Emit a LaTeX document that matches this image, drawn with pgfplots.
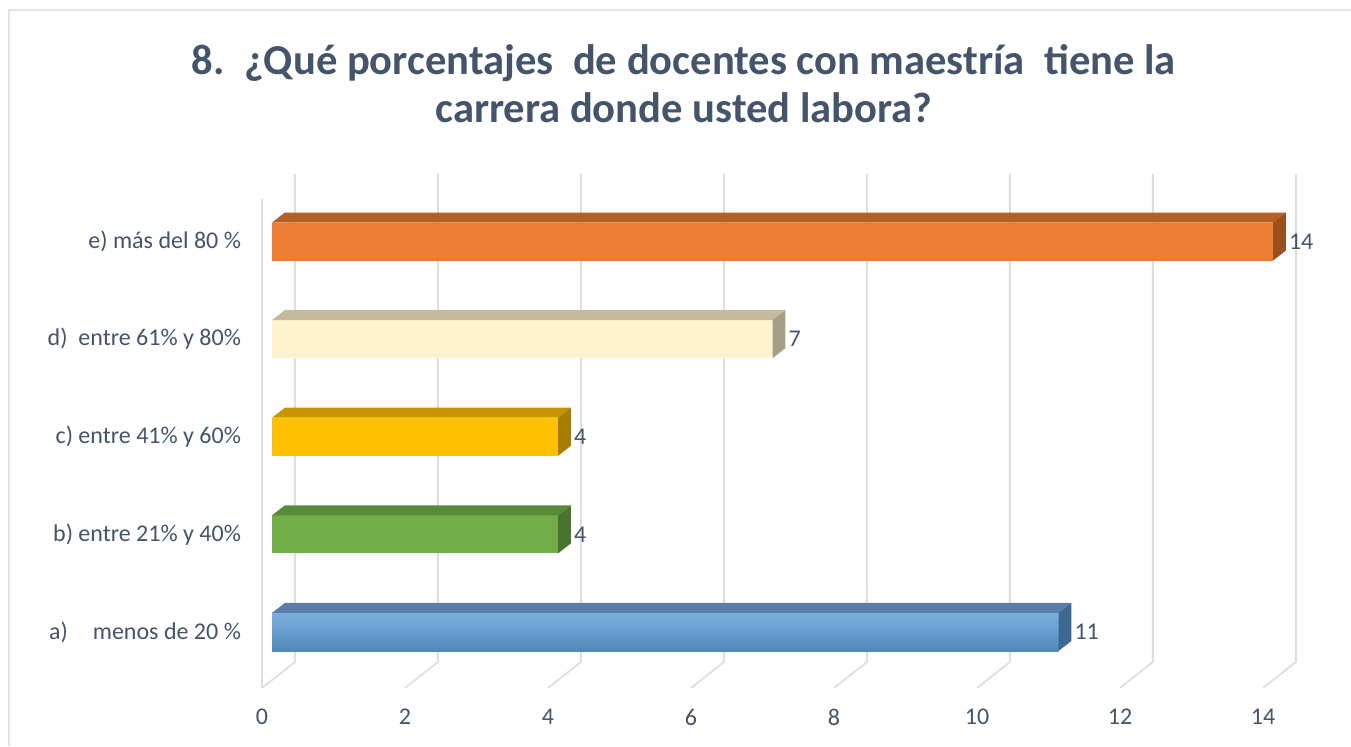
\documentclass[border=0pt]{standalone}
\usepackage{pgfplots}
\pgfplotsset{compat=1.18}
\usepackage{fontspec}
\setmainfont{Carlito}

\definecolor{txt}{HTML}{44546A}
\definecolor{gridc}{HTML}{DCDFE6}
\definecolor{framec}{HTML}{E1E4EA}
% front / top / side colours of each bar
\definecolor{eF}{HTML}{ED7D31}\definecolor{eT}{HTML}{B65F26}\definecolor{eS}{HTML}{9C4F1E}
\definecolor{dF}{HTML}{FFF2CC}\definecolor{dT}{HTML}{C4BA9D}\definecolor{dS}{HTML}{A69F88}
\definecolor{cF}{HTML}{FFC000}\definecolor{cT}{HTML}{C69500}\definecolor{cS}{HTML}{A67D00}
\definecolor{bF}{HTML}{70AD47}\definecolor{bT}{HTML}{588A37}\definecolor{bS}{HTML}{4A742E}
\definecolor{aF}{HTML}{5B9BD5}\definecolor{aT}{HTML}{5A7EA8}\definecolor{aS}{HTML}{3E6891}

\pgfplotsset{
  front/.style={xbar, bar width=0.39, bar shift=0, draw=none, fill=#1,
    nodes near coords,
    every node near coord/.append style={font=\fontsize{12}{14}\selectfont, text=txt, xshift=4.5pt}},
  face/.style={fill=#1, draw=none, mark=none},
}

\begin{document}
\begin{tikzpicture}
\path[use as bounding box] (0,0) rectangle (675.5pt,-373pt);
\draw[framec, line width=0.8pt] (4.5pt,-373pt) -- (4.5pt,-5pt) -- (675.5pt,-5pt);

\node[font=\fontsize{21.3}{24}\selectfont\bfseries, text=txt, align=center]
  at (342pt,-42pt) {8.\ \ ¿Qué porcentajes\ \ de docentes con maestría\ \ tiene la\\carrera donde usted labora?};

\begin{axis}[
  at={(131pt,-344pt)}, anchor=south west,
  scale only axis, width=519.8pt, height=257.4pt,
  xmin=-0.14, xmax=14.4, ymin=-0.574, ymax=4.70,
  axis line style={draw=none}, clip=false,
  xtick={-0.14,1.86,3.86,5.86,7.86,9.86,11.86,13.86},
  xticklabels={0,2,4,6,8,10,12,14},
  ytick={0,1,2,3,4},
  yticklabels={a)\hspace{12.5pt}menos de 20 \%, b) entre 21\% y 40\%, c) entre 41\% y 60\%, d)\ \ entre 61\% y 80\%, e) más del 80 \%},
  tick style={draw=none},
  xticklabel style={font=\fontsize{12}{14}\selectfont, text=txt, yshift=-7pt},
  yticklabel style={font=\fontsize{12}{14}\selectfont, text=txt, xshift=-7pt},
  /pgf/number format/assume math mode=true,
]
% gridlines in perspective
\foreach \k in {0,2,...,14}{
  \edef\tmp{\noexpand\draw[gridc, line width=0.9pt] (axis cs:\k+0.32,4.693) -- (axis cs:\k+0.32,-0.307) -- (axis cs:\k-0.14,-0.574);}
  \tmp
}
\draw[gridc, line width=0.9pt] (axis cs:-0.14,4.436) -- (axis cs:-0.14,-0.574);

% front faces
\addplot[front=aF, top color=aF!80!white, bottom color=aF!88!black] coordinates {(11,0)};
\addplot[front=bF] coordinates {(4,1)};
\addplot[front=cF] coordinates {(4,2)};
\addplot[front=dF] coordinates {(7,3)};
\addplot[front=eF] coordinates {(14,4)};

% top faces
\addplot[face=aT] coordinates {(0,0.195) (11,0.195) (11.18,0.2975) (0.18,0.2975)} -- cycle;
\addplot[face=bT] coordinates {(0,1.195) (4,1.195) (4.18,1.2975) (0.18,1.2975)} -- cycle;
\addplot[face=cT] coordinates {(0,2.195) (4,2.195) (4.18,2.2975) (0.18,2.2975)} -- cycle;
\addplot[face=dT] coordinates {(0,3.195) (7,3.195) (7.18,3.2975) (0.18,3.2975)} -- cycle;
\addplot[face=eT] coordinates {(0,4.195) (14,4.195) (14.18,4.2975) (0.18,4.2975)} -- cycle;
% side faces
\addplot[face=aS] coordinates {(11,-0.195) (11.18,-0.0925) (11.18,0.2975) (11,0.195)} -- cycle;
\addplot[face=bS] coordinates {(4,0.805) (4.18,0.9075) (4.18,1.2975) (4,1.195)} -- cycle;
\addplot[face=cS] coordinates {(4,1.805) (4.18,1.9075) (4.18,2.2975) (4,2.195)} -- cycle;
\addplot[face=dS] coordinates {(7,2.805) (7.18,2.9075) (7.18,3.2975) (7,3.195)} -- cycle;
\addplot[face=eS] coordinates {(14,3.805) (14.18,3.9075) (14.18,4.2975) (14,4.195)} -- cycle;
\end{axis}
\end{tikzpicture}
\end{document}
